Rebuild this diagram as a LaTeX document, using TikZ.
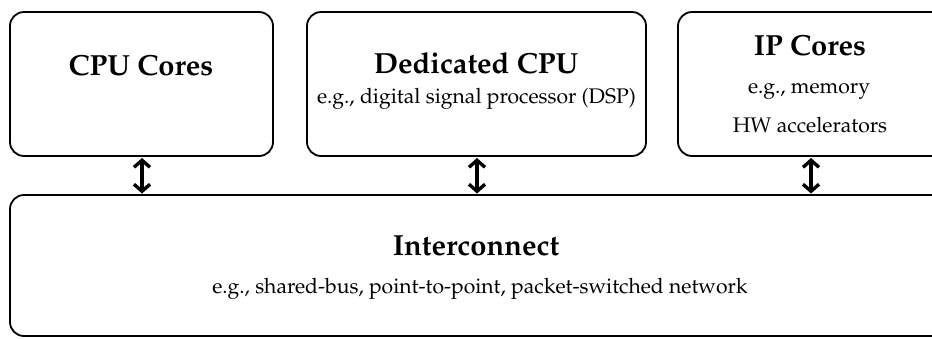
\documentclass[tikz,border=0pt]{standalone}
\usepackage[T1]{fontenc}
\usepackage{mathpazo}
\usetikzlibrary{arrows.meta}
\begin{document}
\begin{tikzpicture}[x=1bp,y=-1bp,
  block/.style={draw=black,line width=1.8bp,rounded corners=14bp},
  title/.style={anchor=base,inner sep=0pt,font=\fontsize{29.2}{31}\selectfont\bfseries},
  note/.style={anchor=base,inner sep=0pt,font=\fontsize{21.2}{23}\selectfont},
  link/.style={line width=3.4bp,{Straight Barb[length=7bp,width=16bp]}-{Straight Barb[length=7bp,width=16bp]}}]
\useasboundingbox (0,0) rectangle (932,338);
\clip (0,0) rectangle (932,338);

% component blocks
\draw[block] (10,12) rectangle (273,156);
\draw[block] (307,12) rectangle (646,156);
\draw[block] (678,12) rectangle (950,156);
\draw[block] (10,195) rectangle (950,336);

% block texts
\node[title] (cpu) at (141,75) {CPU Cores};
\node[title] (ded) at (476,73) {Dedicated CPU};
\node[note] (dsp) at (476.5,103) {e.g., digital signal processor (DSP)};
\node[title] (ip) at (810,55) {IP Cores};
\node[note] (mem) at (809,93) {e.g., memory};
\node[note] (hw) at (810,132) {HW accelerators};
\node[title] (ic) at (476,255) {Interconnect};
\node[note] (icn) at (480,293) {e.g., shared-bus, point-to-point, packet-switched network};

% connector end points on the block borders
\coordinate (a1) at (142,158);
\coordinate (b1) at (142,193.5);
\coordinate (a2) at (477,158);
\coordinate (b2) at (477,193.5);
\coordinate (a3) at (811,158);
\coordinate (b3) at (811,193.5);
\draw[link] (a1) -- (b1);
\draw[link] (a2) -- (b2);
\draw[link] (a3) -- (b3);
\end{tikzpicture}
\end{document}
